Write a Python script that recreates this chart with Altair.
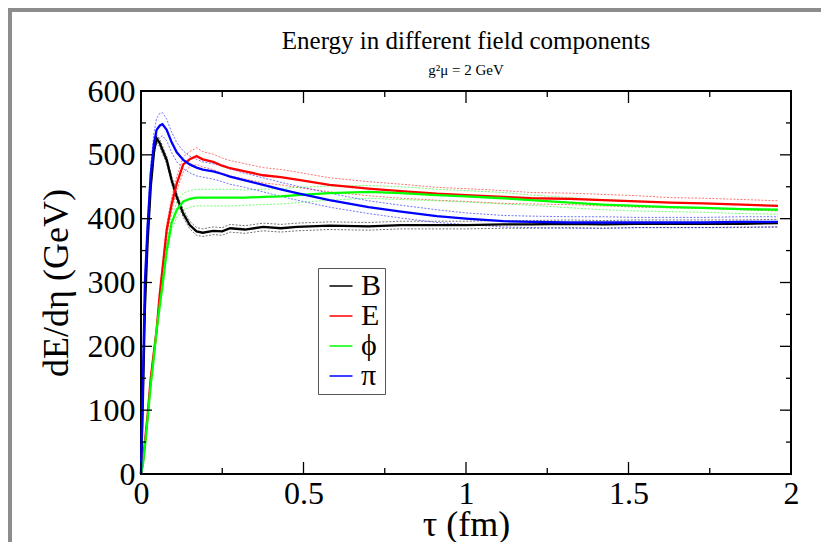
import altair as alt
import pandas as pd

# ---- data ----
tau = [0, 0.006, 0.012, 0.02, 0.03, 0.04, 0.048, 0.058, 0.066, 0.079,
       0.094, 0.11, 0.13, 0.15, 0.171, 0.19, 0.222, 0.25, 0.274, 0.32,
       0.376, 0.43, 0.48, 0.58, 0.7, 0.8, 0.91, 1.0, 1.115, 1.2,
       1.32, 1.42, 1.525, 1.63, 1.73, 1.85, 1.96]

B = [0, 120, 260, 360, 450, 505, 526, 518, 508, 492,
     461, 434, 408, 390, 380, 378, 381, 380, 385, 383,
     387, 385, 387, 389, 388, 390, 390, 390, 391, 391,
     392, 391, 392, 392, 392, 392, 393]
E = [0, 20, 50, 90, 150, 192, 225, 283, 320, 382,
     422, 455, 485, 493, 498, 493, 489, 483, 479, 474,
     468, 465, 461, 453, 447, 443, 439, 437, 434, 432,
     431, 429, 427, 425, 424, 422, 420]
PHI = [0, 15, 43, 85, 140, 185, 225, 265, 295, 350,
       393, 414, 427, 431, 433, 433, 433, 433, 433, 433,
       434, 435, 437, 440, 442, 440, 437, 435, 432, 429,
       425, 422, 420, 418, 417, 415, 414]
PI = [0, 144, 300, 385, 470, 518, 539, 546, 548, 539,
      520, 504, 492, 485, 480, 477, 474, 470, 466, 460,
      453, 446, 440, 429, 418, 411, 404, 400, 396, 395,
      394, 394, 394, 394, 394, 395, 395]

# half-width of the dotted error curves
B_err = [0, 3, 5, 6, 6, 6, 6, 6, 6, 6,
         6, 6, 6, 6, 6, 6, 6, 6, 6, 6,
         6, 6, 6, 6, 6, 6, 6, 6, 6, 6,
         6, 6, 6, 6, 6, 6, 6]
E_err = [0, 1, 2, 3, 4, 5, 6, 7, 8, 9,
         10, 11, 12, 12, 13, 12, 12, 12, 12, 12,
         12, 12, 12, 11, 11, 11, 10, 10, 10, 9,
         9, 9, 9, 8, 8, 8, 8]
PHI_err = [0, 1, 2, 3, 4, 5, 6, 7, 8, 10,
           11, 12, 13, 13, 13, 13, 13, 13, 13, 12,
           12, 12, 12, 11, 10, 10, 9, 9, 9, 8,
           8, 8, 8, 7, 7, 7, 7]
PI_err = [0, 4, 8, 11, 14, 17, 18, 19, 18, 17,
          16, 15, 14, 13, 13, 12, 12, 12, 12, 11,
          11, 11, 11, 11, 10, 10, 10, 9, 9, 9,
          9, 9, 8, 8, 8, 8, 8]

series_names = ["B", "E", "\u03d5", "\u03c0"]
series_colors = ["#000000", "#ff0000", "#00ff00", "#0000ff"]

x_major = [0, 0.5, 1, 1.5, 2]
x_minor = [0.25, 0.75, 1.25, 1.75]
y_major = [0, 100, 200, 300, 400, 500, 600]
y_minor = [50, 150, 250, 350, 450, 550]

# ---- build tables ----
main_rows, band_rows = [], []
for name, vals, errs in zip(series_names, [B, E, PHI, PI], [B_err, E_err, PHI_err, PI_err]):
    for t, v, e in zip(tau, vals, errs):
        main_rows.append({"series": name, "tau": t, "E": v})
        band_rows.append({"series": name, "band": "up", "tau": t, "E": v + e})
        band_rows.append({"series": name, "band": "lo", "tau": t, "E": max(v - e, 0)})
main_df = pd.DataFrame(main_rows)
band_df = pd.DataFrame(band_rows)

FONT = "Liberation Serif"
W, H = 650, 383
PL, PT, PR, PB = 133, 83, 30, 68
BORDER = 4
GREY = "#8c8c8c"

xs = alt.Scale(domain=[0, 2], nice=False, zero=False)
ys = alt.Scale(domain=[0, 600], nice=False, zero=False)

x_axis = alt.Axis(values=x_major, format="~g", title="\u03c4 (fm)",
                  labelFont=FONT, titleFont=FONT, labelFontSize=32, titleFontSize=36,
                  labelPadding=4, titlePadding=-2, labelFlush=False, labelOverlap=False)
y_axis = alt.Axis(values=y_major, format="d", title="dE/d\u03b7 (GeV)",
                  labelFont=FONT, titleFont=FONT, labelFontSize=32, titleFontSize=36,
                  labelPadding=6, titlePadding=12, labelOverlap=False)

one = pd.DataFrame({"k": [0]})
left_strip = alt.Chart(one).mark_rect(fill=GREY).encode(
    x=alt.value(-PL), x2=alt.value(-PL + BORDER),
    y=alt.value(-PT), y2=alt.value(H + PB))
top_strip = alt.Chart(one).mark_rect(fill=GREY).encode(
    x=alt.value(-PL), x2=alt.value(W + PR),
    y=alt.value(-PT), y2=alt.value(-PT + BORDER))

bands = alt.Chart(band_df).mark_line(strokeWidth=1, strokeDash=[2, 1.5], opacity=0.55).encode(
    x=alt.X("tau:Q", scale=xs, axis=x_axis),
    y=alt.Y("E:Q", scale=ys, axis=y_axis),
    color=alt.Color("series:N", scale=alt.Scale(domain=series_names, range=series_colors),
                    legend=None),
    detail="band:N",
)

lines = alt.Chart(main_df).mark_line(strokeWidth=2.3).encode(
    x=alt.X("tau:Q", scale=xs, axis=x_axis),
    y=alt.Y("E:Q", scale=ys, axis=y_axis),
    color=alt.Color("series:N", scale=alt.Scale(domain=series_names, range=series_colors),
                    legend=alt.Legend(title=None, orient="none", legendX=177, legendY=177,
                                      direction="vertical", symbolType="stroke",
                                      symbolSize=530, symbolStrokeWidth=1.5,
                                      symbolOffset=5,
                                      labelFont=FONT, labelFontSize=30,
                                      labelColor="black", labelOffset=5,
                                      strokeColor="#555555", fillColor="white",
                                      padding=3, rowPadding=0)),
)

xmaj = pd.DataFrame({"tau": x_major})
xmin = pd.DataFrame({"tau": x_minor})
ymaj = pd.DataFrame({"E": y_major})
ymin = pd.DataFrame({"E": y_minor})

def xticks(df, length):
    bot = alt.Chart(df).mark_rule(color="black", strokeWidth=1.3).encode(
        x=alt.X("tau:Q", scale=xs, axis=x_axis), y=alt.value(H), y2=alt.value(H - length))
    top = alt.Chart(df).mark_rule(color="black", strokeWidth=1.3).encode(
        x=alt.X("tau:Q", scale=xs, axis=x_axis), y=alt.value(0), y2=alt.value(length))
    return [bot, top]

def yticks(df, length):
    left = alt.Chart(df).mark_rule(color="black", strokeWidth=1.3).encode(
        y=alt.Y("E:Q", scale=ys, axis=y_axis), x=alt.value(0), x2=alt.value(length))
    right = alt.Chart(df).mark_rule(color="black", strokeWidth=1.3).encode(
        y=alt.Y("E:Q", scale=ys, axis=y_axis), x=alt.value(W), x2=alt.value(W - length))
    return [left, right]

tick_layers = xticks(xmaj, 12) + xticks(xmin, 6) + yticks(ymaj, 11) + yticks(ymin, 5)

# the title is placed above the top of all marks (the border strip at -PT); pull it down
title_offset = -PT + 13

chart = alt.layer(left_strip, top_strip, bands, lines, *tick_layers).resolve_scale(
    color="independent"
).properties(
    width=W, height=H,
    padding={"left": PL, "top": PT, "right": PR, "bottom": PB},
    autosize=alt.AutoSizeParams(type="none"),
    background="white",
    title=alt.TitleParams(text="Energy in different field components",
                          subtitle="g\u00b2\u03bc = 2 GeV",
                          anchor="middle", frame="group", offset=title_offset,
                          subtitlePadding=9),
).configure_view(stroke="black", strokeWidth=2).configure_axis(
    labelFont=FONT, titleFont=FONT,
    labelColor="black", titleColor="black",
    titleFontWeight="normal", ticks=False, domain=False, grid=False,
).configure_title(
    font=FONT, fontSize=25, fontWeight="normal", color="black",
    subtitleFont=FONT, subtitleFontSize=15, subtitleColor="black",
)

chart.save("out.html", embed_options={"renderer": "svg", "actions": False})
